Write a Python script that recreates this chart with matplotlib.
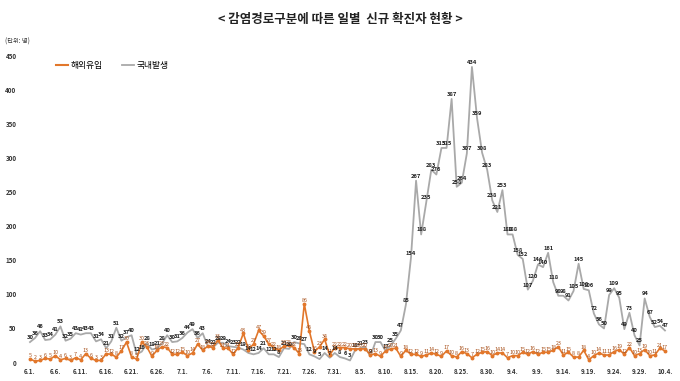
import matplotlib
matplotlib.use("Agg")
import matplotlib.pyplot as plt
from matplotlib.lines import Line2D
import numpy as np

plt.rcParams['font.family'] = ['Noto Sans CJK KR', 'DejaVu Sans']

# ---- data ----
title = "< 감염경로구분에 따른 일별  신규 확진자 현황 >"
unit_label = "(단위: 명)"
series_names = ["해외유입", "국내발생"]

domestic = [
    # June
    30, 36, 46, 33, 34, 41, 53, 32, 35, 43, 41, 43, 43, 31, 34, 21, 31, 51, 32, 37,
    40, 12, 16, 28, 19, 21, 28, 40, 30, 31,
    # July
    36, 44, 49, 36, 43, 24, 22, 29, 29, 24, 23, 22, 19, 14, 12, 14, 21, 12, 12, 8,
    21, 20, 30, 28, 27, 12, 9, 5, 14, 7, 14,
    # August
    8, 6, 3, 18, 21, 23, 9, 30, 30, 17, 25, 35, 47, 85, 154, 267, 188, 235, 283, 276,
    315, 315, 387, 258, 264, 307, 434, 359, 308, 283, 238,
    # September
    221, 253, 188, 188, 158, 152, 107, 120, 144, 140, 161, 118, 98, 98, 91, 105, 145, 108, 106, 72,
    56, 50, 99, 109, 95, 49, 73, 40, 25, 94,
    # October
    67, 52, 54, 47,
]

imported = [
    # June
    5, 2, 3, 6, 5, 10, 4, 6, 3, 7, 4, 13, 6, 3, 3, 13, 12, 8, 17, 30,
    8, 5, 30, 23, 9, 18, 23, 22, 12, 12,
    # July
    15, 10, 14, 27, 18, 24, 22, 33, 21, 21, 12, 22, 43, 19, 27, 47, 39, 27, 22, 18,
    24, 25, 22, 13, 86, 46, 16, 23, 34, 11, 22,
    # August
    22, 22, 20, 20, 20, 20, 11, 13, 9, 17, 20, 21, 9, 18, 12, 12, 9, 11, 14, 12,
    9, 17, 10, 8, 16, 13, 7, 12, 15, 16, 10,
    # September
    14, 14, 7, 10, 10, 15, 12, 16, 12, 15, 15, 18, 23, 11, 15, 8, 8, 18, 4, 10,
    14, 11, 11, 16, 19, 12, 22, 10, 13, 19,
    # October
    10, 11, 21, 17,
]

tick_labels = ["6.1.", "6.6.", "6.11.", "6.16.", "6.21.", "6.26.", "7.1.", "7.6.", "7.11.",
               "7.16.", "7.21.", "7.26.", "7.31.", "8.5.", "8.10.", "8.15.", "8.20.", "8.25.",
               "8.30.", "9.4.", "9.9.", "9.14.", "9.19.", "9.24.", "9.29.", "10.4."]
y_ticks = [0, 50, 100, 150, 200, 250, 300, 350, 400, 450]

orange = "#E2772B"
gray = "#A9A9A9"

# ---- figure ----
W, H = 680, 381
fig = plt.figure(figsize=(W / 100, H / 100), dpi=100)
x = np.arange(len(domestic))

ax = fig.add_axes([24.9 / W, 18.5 / H, (672.6 - 24.9) / W, 306.5 / H])
ax.set_xlim(-1, 126.5)
ax.set_ylim(0, 450)

ax.plot(x, domestic, color=gray, lw=1.3, zorder=2)
ax.plot(x, imported, color=orange, lw=1.2, marker='o', ms=1.8, zorder=3)

for xi, v in zip(x, domestic):
    ax.annotate(str(v), (xi, v), xytext=(0, 1.5), textcoords='offset points',
                ha='center', va='bottom', fontsize=4.2, color='#222222',
                fontweight='bold', zorder=5, annotation_clip=False)
for xi, v in zip(x, imported):
    ax.annotate(str(v), (xi, v), xytext=(0, 0.5), textcoords='offset points',
                ha='center', va='bottom', fontsize=3.9, color='#A8501A',
                zorder=5, annotation_clip=False)

ax.set_xticks(x[::5])
ax.set_xticklabels(tick_labels, fontsize=4.5, fontweight='bold', color='#333333')
ax.set_yticks(y_ticks)
ax.set_yticklabels([str(t) for t in y_ticks], fontsize=4.5, fontweight='bold',
                   color='#333333')
ax.tick_params(axis='both', length=0)
ax.tick_params(axis='x', pad=4)
ax.tick_params(axis='y', pad=6)
for s in ax.spines.values():
    s.set_visible(False)

fig.text(0.5, 1 - 19 / H, title, ha='center', va='center', fontsize=9,
         fontweight='bold', color='#222222')
fig.text(5 / W, 1 - 42 / H, unit_label, ha='left', va='center', fontsize=4.5,
         color='#333333')

handles = [Line2D([], [], color=orange, lw=1.5), Line2D([], [], color=gray, lw=1.3)]
leg = fig.legend(handles, series_names, loc='upper left',
                 bbox_to_anchor=(48 / W, 1 - 53 / H), ncol=2, frameon=False,
                 fontsize=6.3, handlelength=1.4, columnspacing=2.2, handletextpad=0.3)

fig.savefig("out.png", dpi=100)
